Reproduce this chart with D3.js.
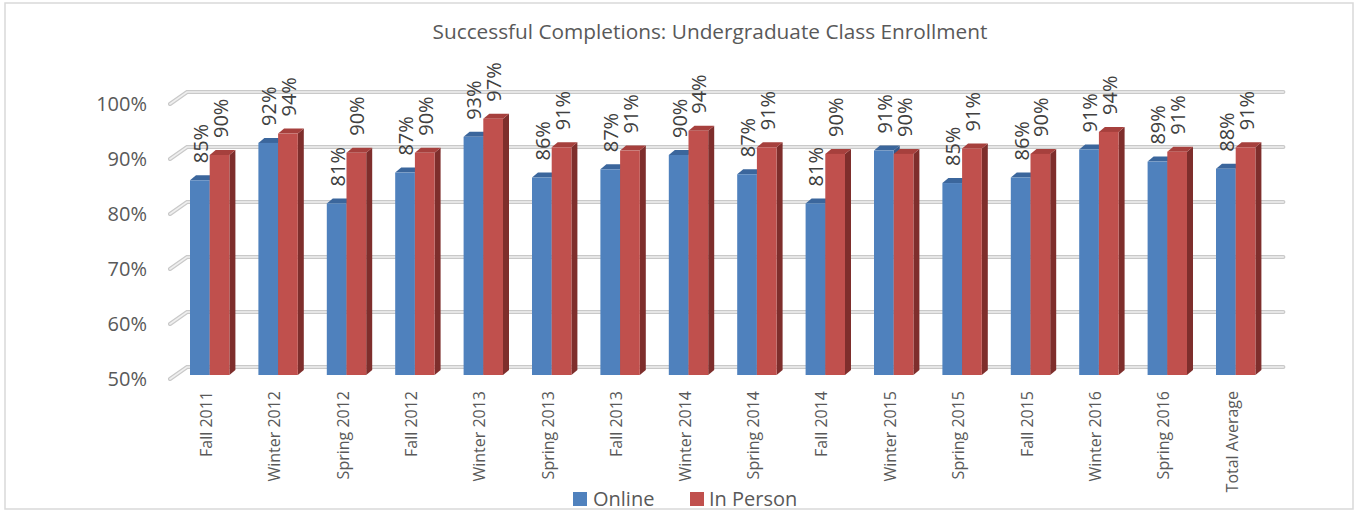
<!DOCTYPE html>
<html>
<head>
<meta charset="utf-8">
<script src="https://cdn.jsdelivr.net/npm/d3@7"></script>
<style>
  html, body { margin: 0; padding: 0; background: #fff; }
  svg { display: block; }
  text { font-family: "Open Sans", sans-serif; }
</style>
</head>
<body>
<svg id="chart" width="1357" height="512"></svg>
<script>
const categories = ["Fall 2011", "Winter 2012", "Spring 2012", "Fall 2012", "Winter 2013", "Spring 2013",
  "Fall 2013", "Winter 2014", "Spring 2014", "Fall 2014", "Winter 2015", "Spring 2015",
  "Fall 2015", "Winter 2016", "Spring 2016", "Total Average"];
const seriesNames = ["Online", "In Person"];
const online   = [85.4, 92.2, 81.2, 86.8, 93.3, 85.9, 87.4, 90.0, 86.5, 81.2, 90.8, 84.9, 85.9, 91.0, 88.8, 87.5];
const inPerson = [90.0, 93.9, 90.4, 90.4, 96.6, 91.4, 90.8, 94.4, 91.4, 90.2, 90.2, 91.2, 90.2, 94.2, 90.6, 91.4];
const yTicks = [50, 60, 70, 80, 90, 100];
const title = "Successful Completions: Undergraduate Class Enrollment";

const svg = d3.select("#chart");
const W = 1357, H = 512;

// chart border
svg.append("rect").attr("x", 5).attr("y", 3).attr("width", W - 9).attr("height", H - 6)
  .attr("fill", "#fff").attr("stroke", "#d9d9d9").attr("stroke-width", 1.5);

// title
svg.append("text").attr("x", 710).attr("y", 32).attr("dy", "0.35em")
  .attr("text-anchor", "middle").attr("font-size", 20.8).attr("fill", "#595959").text(title);

// geometry
const frontLeft = 170, depthX = 17, depthY = -12;
const y = d3.scaleLinear().domain([50, 100]).range([367, 92]); // back wall
const x = d3.scaleBand().domain(categories).range([frontLeft, frontLeft + 68.4 * categories.length]);
const xs = d3.scaleBand().domain(seriesNames).range([20, 59.4]);
const barOffY = 8;          // bar front sits 8px below back wall line
const bdx = 6, bdy = -5;    // bar depth

// gridlines (back wall + left side diagonals)
const grid = svg.append("g");
yTicks.forEach(t => {
  const yb = y(t);
  const pts = [[frontLeft, yb - depthY], [frontLeft + depthX, yb], [x.range()[1] + depthX + 2, yb]];
  const line = d3.line();
  grid.append("path").attr("d", line(pts)).attr("fill", "none")
    .attr("stroke", "#c9c9c9").attr("stroke-width", 4).attr("stroke-linecap", "round");
  grid.append("path").attr("d", line(pts)).attr("fill", "none")
    .attr("stroke", "#efefef").attr("stroke-width", 1.6).attr("stroke-linecap", "round");
});

// y tick labels
svg.append("g").selectAll("text").data(yTicks).join("text")
  .attr("x", 147).attr("y", d => y(d) - depthY).attr("dy", "0.35em")
  .attr("text-anchor", "end").attr("font-size", 20).attr("fill", "#595959")
  .text(d => d + "%");

// bars
const colors = {
  "Online":    { front: "#4f81bd", top: "#3b669c", side: "#34598a" },
  "In Person": { front: "#c0504d", top: "#a6403d", side: "#7e2e2c" }
};
const rows = categories.map((c, i) => ({ cat: c, vals: [online[i], inPerson[i]] }));
const bars = svg.append("g");
const fmt = v => Math.round(v) + "%";

rows.forEach(r => {
  seriesNames.forEach((s, si) => {
    const v = r.vals[si];
    const x0 = x(r.cat) + xs(s), w = xs.bandwidth();
    const yt = y(v) + barOffY, yb = y(50) + barOffY;
    const col = colors[s];
    const g = bars.append("g");
    g.append("path").attr("d", `M${x0 + w},${yt}L${x0 + w + bdx},${yt + bdy}L${x0 + w + bdx},${yb + bdy}L${x0 + w},${yb}Z`)
      .attr("fill", col.side);
    g.append("path").attr("d", `M${x0},${yt}L${x0 + bdx},${yt + bdy}L${x0 + w + bdx},${yt + bdy}L${x0 + w},${yt}Z`)
      .attr("fill", col.top);
    g.append("rect").attr("x", x0).attr("y", yt).attr("width", w).attr("height", yb - yt)
      .attr("fill", col.front);
  });
});

// data labels
const labels = svg.append("g");
rows.forEach(r => {
  seriesNames.forEach((s, si) => {
    const v = r.vals[si];
    const cx = x(r.cat) + xs(s) + xs.bandwidth() / 2 + 1;
    const ty = y(v) + barOffY - 17;
    labels.append("text")
      .attr("transform", `translate(${cx},${ty}) rotate(-90)`)
      .attr("dy", "0.35em").attr("text-anchor", "start")
      .attr("font-size", 20).attr("fill", "#404040").text(fmt(v));
  });
});

// x labels
svg.append("g").selectAll("text").data(categories).join("text")
  .attr("transform", d => `translate(${x(d) + x.bandwidth() / 2 + 2},${391}) rotate(-90)`)
  .attr("dy", "0.35em").attr("text-anchor", "end")
  .attr("font-size", 16).attr("fill", "#595959").text(d => d);

// legend
const legend = svg.append("g");
const legendItems = [
  { name: "Online", color: colors["Online"].front, sx: 573, tx: 593 },
  { name: "In Person", color: colors["In Person"].front, sx: 690, tx: 709 }
];
legendItems.forEach(l => {
  legend.append("rect").attr("x", l.sx).attr("y", 492).attr("width", 14).attr("height", 14).attr("fill", l.color);
  legend.append("text").attr("x", l.tx).attr("y", 499).attr("dy", "0.35em")
    .attr("font-size", 20).attr("fill", "#595959").text(l.name);
});
</script>
</body>
</html>
